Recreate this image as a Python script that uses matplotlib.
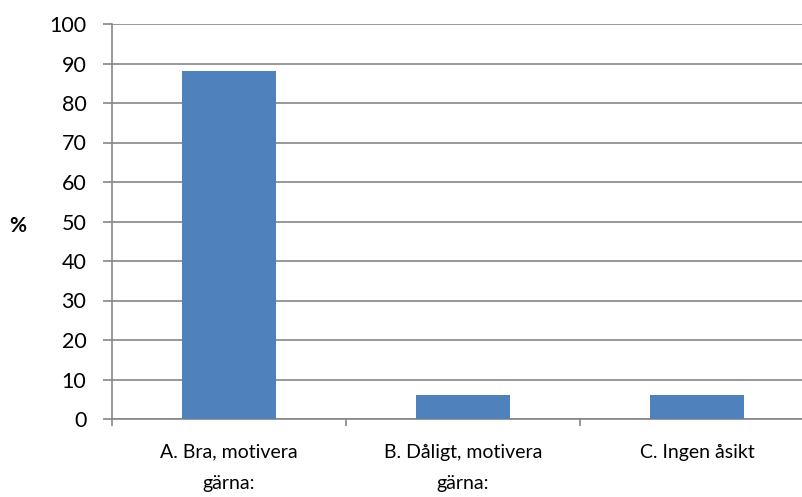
import matplotlib.pyplot as plt
import matplotlib.transforms as mtransforms
import numpy as np

# precomposed characters: \u00e4 = ä, \u00e5 = å
categories = [["A. Bra, motivera", "g\u00e4rna:"],
              ["B. D\u00e5ligt, motivera", "g\u00e4rna:"],
              ["C. Ingen \u00e5sikt"]]
values = [88, 6, 6]
yticks = [0, 10, 20, 30, 40, 50, 60, 70, 80, 90, 100]

plt.rcParams['font.family'] = ['Lato', 'DejaVu Sans']

fig = plt.figure(figsize=(8.02, 4.97), dpi=100)
ax = fig.add_axes([112 / 802, 78 / 497, 702 / 802, 395 / 497])

x = np.arange(len(categories))
ax.bar(x, values, width=0.4, color='#4F81BD', zorder=3)

ax.set_xlim(-0.5, 2.5)
ax.set_ylim(0, 100)
ax.set_yticks(yticks)
ax.yaxis.grid(True, color='#868686', linewidth=1.2, zorder=0)
ax.tick_params(axis='y', length=6.5, width=1.2, color='#868686', labelsize=15.5, pad=12)

# category boundaries as ticks, labels drawn line by line
ax.set_xticks(np.arange(-0.5, 3, 1))
ax.set_xticklabels([])
ax.tick_params(axis='x', length=5, width=1.2, color='#868686')
trans = mtransforms.blended_transform_factory(ax.transData, ax.transAxes)
for xi, lines in zip(x, categories):
    for i, line in enumerate(lines):
        ax.annotate(line, xy=(xi, 0), xycoords=trans, xytext=(0, -24 - 22.5 * i),
                    textcoords='offset points', ha='center', va='center', fontsize=14)

for s in ['top', 'right']:
    ax.spines[s].set_visible(False)
for s in ['left', 'bottom']:
    ax.spines[s].set_color('#868686')
    ax.spines[s].set_linewidth(1.2)

fig.text(18 / 802, 1 - 226 / 497, '%', fontsize=15, fontweight='bold', ha='center', va='center')

fig.savefig('out.png', dpi=100)
